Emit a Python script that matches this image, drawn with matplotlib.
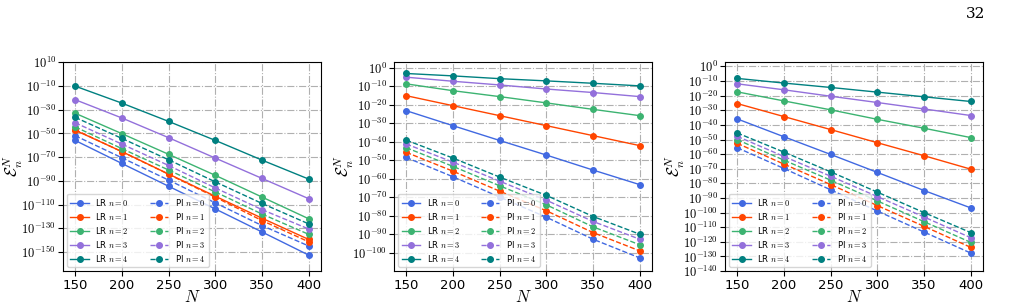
import numpy as np
import matplotlib.pyplot as plt
from matplotlib.ticker import FixedLocator, FuncFormatter

plt.rcParams['mathtext.fontset'] = 'cm'

N = [150, 200, 250, 300, 350, 400]
colors = ['royalblue', 'orangered', 'mediumseagreen', 'mediumpurple', 'teal']

# log10 of the error
# panel 1
lr1 = [
    [-56.0, -75.4, -94.6, -113.7, -133.1, -152.6],
    [-47.4, -65.4, -84.3, -103.0, -121.5, -139.4],
    [-33.1, -50.3, -67.7, -85.4, -103.7, -122.0],
    [-21.7, -37.1, -53.7, -70.9, -88.0, -105.1],
    [-10.3, -24.6, -40.0, -56.0, -72.6, -88.6],
]
pi1 = [
    [-52.0, -70.6, -89.4, -108.6, -127.7, -144.9],
    [-47.0, -65.5, -84.5, -103.8, -123.5, -141.4],
    [-44.6, -62.9, -80.9, -99.4, -118.0, -135.1],
    [-41.1, -59.1, -77.1, -96.0, -114.3, -130.6],
    [-36.6, -54.3, -72.3, -90.9, -109.1, -126.3],
]
# panel 2
lr2 = [
    [-23.3, -31.4, -39.4, -47.3, -55.4, -63.3],
    [-15.2, -20.6, -26.0, -31.4, -36.8, -42.2],
    [-8.8, -12.5, -15.7, -19.1, -22.6, -26.0],
    [-5.2, -7.4, -9.4, -11.6, -13.5, -15.7],
    [-3.2, -4.5, -6.0, -7.2, -8.5, -9.9],
]
pi2 = [
    [-48.6, -59.0, -70.0, -80.9, -92.8, -102.9],
    [-45.8, -56.0, -66.8, -77.4, -89.2, -99.1],
    [-43.3, -53.4, -63.9, -74.2, -86.1, -95.8],
    [-41.3, -51.1, -61.4, -71.7, -83.2, -92.8],
    [-39.2, -48.9, -59.2, -69.1, -80.5, -90.1],
]
# panel 3
lr3 = [
    [-35.9, -48.1, -60.2, -72.5, -84.9, -96.8],
    [-25.4, -34.3, -43.2, -52.2, -61.1, -70.3],
    [-17.4, -23.6, -29.7, -36.2, -42.3, -48.7],
    [-11.9, -16.0, -20.4, -24.7, -29.1, -33.6],
    [-8.2, -11.4, -14.4, -17.6, -20.8, -24.0],
]
pi3 = [
    [-55.6, -69.8, -84.4, -98.9, -113.3, -127.7],
    [-52.6, -66.8, -80.8, -95.2, -109.4, -123.8],
    [-50.1, -64.1, -77.8, -92.0, -106.2, -120.4],
    [-47.8, -61.6, -75.1, -89.0, -103.0, -117.2],
    [-45.5, -58.6, -72.1, -86.0, -100.0, -113.7],
]

panels = [
    (lr1, pi1, (-166, 10), range(10, -170, -20)),
    (lr2, pi2, (-110, 3), range(0, -110, -10)),
    (lr3, pi3, (-140, 3), range(0, -150, -10)),
]
lefts = [0.0624, 0.3905, 0.7185]

fig = plt.figure(figsize=(10.09, 3.07), dpi=100)

for (lr, pi, ylim, ticks), left in zip(panels, lefts):
    ax = fig.add_axes([left, 0.117, 0.2557, 0.681])
    for n in range(5):
        ax.plot(N, 10.0 ** np.array(lr[n]), '-o', color=colors[n], lw=1.0, ms=4,
                label='LR $n = %d$' % n)
    for n in range(5):
        ax.plot(N, 10.0 ** np.array(pi[n]), '--o', color=colors[n], lw=1.0, ms=4,
                label='PI $n = %d$' % n)
    ax.set_yscale('log')
    ax.set_ylim(10.0 ** ylim[0], 10.0 ** ylim[1])
    ax.set_xlim(137, 413)
    ax.set_xticks(N)
    ax.yaxis.set_major_locator(FixedLocator([10.0 ** k for k in ticks]))
    ax.yaxis.set_minor_locator(FixedLocator([]))
    ax.yaxis.set_major_formatter(FuncFormatter(lambda v, p: r'$10^{%d}$' % round(np.log10(v))))
    ax.tick_params(axis='x', labelsize=9.5, pad=2)
    ax.tick_params(axis='y', labelsize=9, pad=1.5)
    ax.grid(True, ls='-.', color='#b0b0b0', lw=0.8)
    ax.set_xlabel('$N$', fontsize=12, labelpad=-2.5)
    ax.set_ylabel(r'$\mathcal{E}_n^N$', fontsize=12, labelpad=-2.5)
    ax.legend(ncol=2, loc='lower left', fontsize=6, handlelength=2.2,
              columnspacing=2.5, labelspacing=0.35, borderpad=0.4)

fig.text(0.976, 0.955, '32', fontsize=11, family='DejaVu Serif', ha='right', va='center')

fig.savefig('out.png', dpi=100)
